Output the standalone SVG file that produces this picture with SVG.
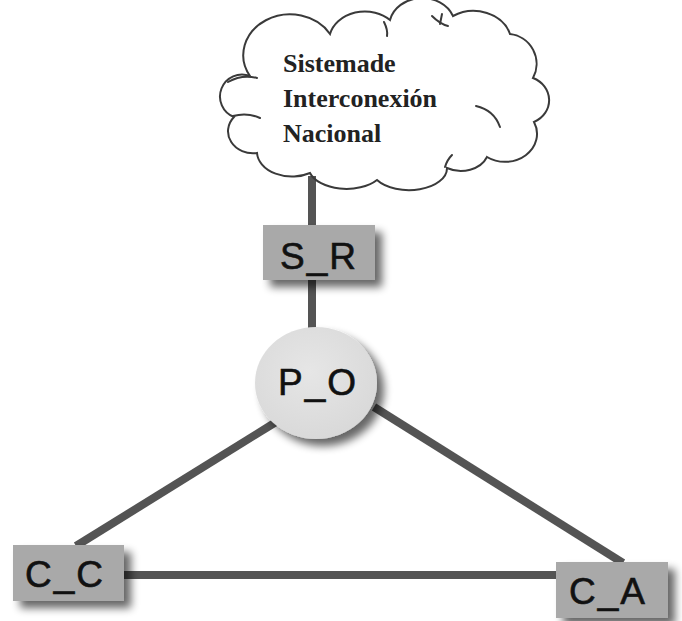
<svg xmlns="http://www.w3.org/2000/svg" width="682" height="621" viewBox="0 0 682 621">
  <defs>
    <filter id="shadow" x="-30%" y="-30%" width="170%" height="170%">
      <feGaussianBlur in="SourceAlpha" stdDeviation="4.5"/>
      <feOffset dx="7" dy="7" result="blur"/>
      <feComponentTransfer><feFuncA type="linear" slope="0.6"/></feComponentTransfer>
      <feMerge><feMergeNode/><feMergeNode in="SourceGraphic"/></feMerge>
    </filter>
    <radialGradient id="discFill" cx="45%" cy="40%" r="65%">
      <stop offset="0" stop-color="#e6e6e6"/>
      <stop offset="1" stop-color="#d8d8d8"/>
    </radialGradient>
    <style>
      .wire { stroke: #545454; stroke-width: 8; fill: none; stroke-linecap: butt; }
      .box { fill: #a9a9a9; }
      .label { font-family: "Liberation Sans", Arial, sans-serif; font-size: 37px; fill: #111; stroke: #111; stroke-width: 0.6; text-anchor: middle; letter-spacing: 2px; }
      .cloudline { fill: none; stroke: #3a3a3a; stroke-width: 2; stroke-linecap: round; }
      .cloudtext { font-family: "Liberation Serif", "Times New Roman", serif; font-weight: bold; font-size: 26px; fill: #222; }
    </style>
  </defs>

  <rect width="682" height="621" fill="#ffffff"/>

  <!-- connectors -->
  <g id="connectors">
    <line class="wire" x1="312" y1="176" x2="312" y2="226"/>
    <line class="wire" x1="312" y1="280" x2="312" y2="330"/>
    <line class="wire" x1="276" y1="422" x2="76" y2="546"/>
    <line class="wire" x1="374" y1="407" x2="623" y2="563"/>
    <line class="wire" x1="124" y1="575" x2="557" y2="575" stroke-width="7"/>
  </g>

  <!-- cloud: national interconnection system -->
  <g id="sin">
    <path fill="#ffffff" class="cloudline" d="M 250,76 A 46,40 0 0 1 330,34 A 36,30 0 0 1 390,20 A 33,28 0 0 1 453,16 A 38,32 0 0 1 510,34 A 30,30 0 0 1 533,78 A 26,24 0 0 1 534,122 A 32,28 0 0 1 487,157 A 28,22 0 0 1 447,168 A 38,22 0 0 1 377,180 A 38,22 0 0 1 310,173 A 35,25 0 0 1 257,153 A 25,22 0 0 1 234,117 A 22,22 0 0 1 250,76 Z"/>
    <path class="cloudline" d="M 228,82 Q 242,74 257,78"/>
    <path class="cloudline" d="M 233,116 Q 247,112 260,118"/>
    <path class="cloudline" d="M 476,106 Q 494,110 500,127"/>
    <path class="cloudline" d="M 432,16 Q 440,24 448,26"/>
    <path class="cloudline" d="M 442,14 L 440,24"/>
    <path class="cloudline" d="M 384,22 Q 388,30 387,36"/>
    <path class="cloudline" d="M 445,167 Q 447,160 452,155"/>
    <text class="cloudtext" x="283" y="72">Sistemade</text>
    <text class="cloudtext" x="283" y="107">Interconexión</text>
    <text class="cloudtext" x="283" y="142">Nacional</text>
  </g>

  <g id="s_r">
    <rect class="box" x="263" y="225" width="112" height="55" filter="url(#shadow)"/>
    <text class="label" x="319" y="269">S_R</text>
  </g>

  <g id="p_o">
    <ellipse cx="316" cy="383" rx="61" ry="56" fill="url(#discFill)" filter="url(#shadow)"/>
    <text class="label" x="318" y="395">P_O</text>
  </g>

  <g id="c_c">
    <rect class="box" x="13" y="545" width="111" height="56" filter="url(#shadow)"/>
    <text class="label" x="65" y="587">C_C</text>
  </g>

  <g id="c_a">
    <rect class="box" x="556" y="562" width="112" height="56" filter="url(#shadow)"/>
    <text class="label" x="608" y="604">C_A</text>
  </g>
</svg>
